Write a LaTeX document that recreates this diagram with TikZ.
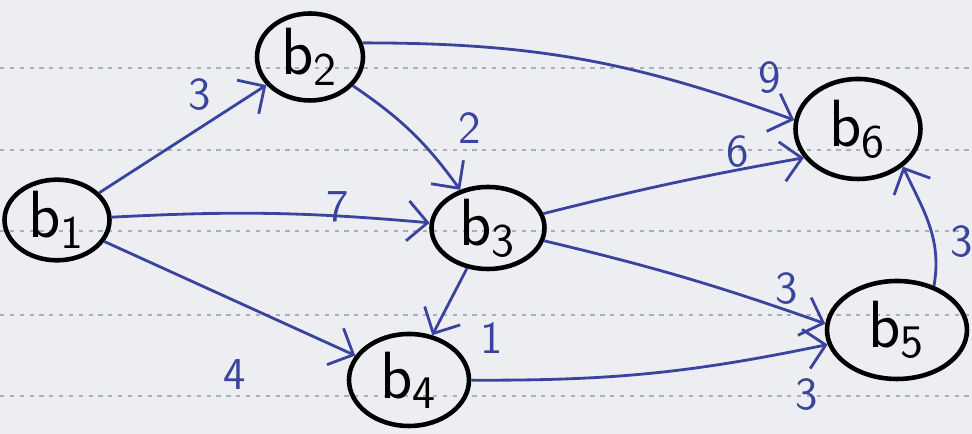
\documentclass[tikz,border=0pt]{standalone}
\usetikzlibrary{arrows.meta, shapes.geometric}
\definecolor{ink}{RGB}{58,68,158}
\definecolor{paper}{RGB}{236,238,241}
\definecolor{rule}{RGB}{170,174,182}
\tikzset{
  vertex/.style = {draw, ellipse, line width=1.3pt, inner sep=0pt,
    font=\sffamily\fontsize{19}{19}\selectfont},
  edge/.style = {draw=ink, line width=0.8pt, -{Straight Barb[length=2mm, width=4mm]}},
  weight/.style = {text=ink, font=\sffamily\fontsize{13}{13}\selectfont}
}

\begin{document}
\begin{tikzpicture}

  %% Weighted digraph on ruled paper

  % Paper
  \fill[paper] (0,0) rectangle (9.72,4.34);
  \useasboundingbox (0,0) rectangle (9.72,4.34);
  \foreach \y in {3.66, 2.84, 2.03, 1.19, 0.38}
    \draw[rule, line width=0.6pt, dash pattern=on 1.2pt off 1.6pt] (0,\y) -- (9.72,\y);

  % Vertices
  \node[vertex, minimum width=1.05cm, minimum height=0.75cm] (b1) at (0.57,2.14) {b\textsubscript{1}};
  \node[vertex, minimum width=1.06cm, minimum height=0.87cm] (b2) at (3.10,3.77) {b\textsubscript{2}};
  \node[vertex, minimum width=1.13cm, minimum height=0.77cm] (b3) at (4.88,2.06) {b\textsubscript{3}};
  \node[vertex, minimum width=1.20cm, minimum height=0.92cm] (b4) at (4.09,0.54) {b\textsubscript{4}};
  \node[vertex, minimum width=1.40cm, minimum height=0.98cm] (b5) at (8.97,1.04) {b\textsubscript{5}};
  \node[vertex, minimum width=1.25cm, minimum height=1.00cm] (b6) at (8.58,3.05) {b\textsubscript{6}};

  % Arcs
  \draw[edge] (b1) -- (b2);
  \draw[edge] (b1) to[bend left=4] (b3);
  \draw[edge] (b1) -- (b4);
  \draw[edge] (b2) to[bend left=10] (b3);
  \draw[edge] (b2.15) to[out=0, in=160] (b6.172);
  \draw[edge] (b3) to[bend left=2] (b6.208);
  \draw[edge] (b3) -- (b4);
  \draw[edge] (b3) to[bend left=3] (b5.175);
  \draw[edge] (b4) to[bend right=6] (b5);
  \draw[edge] (b5.50) to[out=80, in=-65] (b6.-40);

  % Weights
  \node[weight] (w12) at (2.00,3.39) {3};
  \node[weight] (w13) at (3.38,2.27) {7};
  \node[weight] (w14) at (2.35,0.59) {4};
  \node[weight] (w23) at (4.70,3.06) {2};
  \node[weight] (w26) at (7.70,3.56) {9};
  \node[weight] (w36) at (7.38,2.82) {6};
  \node[weight] (w34) at (4.92,0.96) {1};
  \node[weight] (w35) at (7.87,1.45) {3};
  \node[weight] (w45) at (8.07,0.39) {3};
  \node[weight] (w56) at (9.62,1.92) {3};

\end{tikzpicture}
\end{document}
